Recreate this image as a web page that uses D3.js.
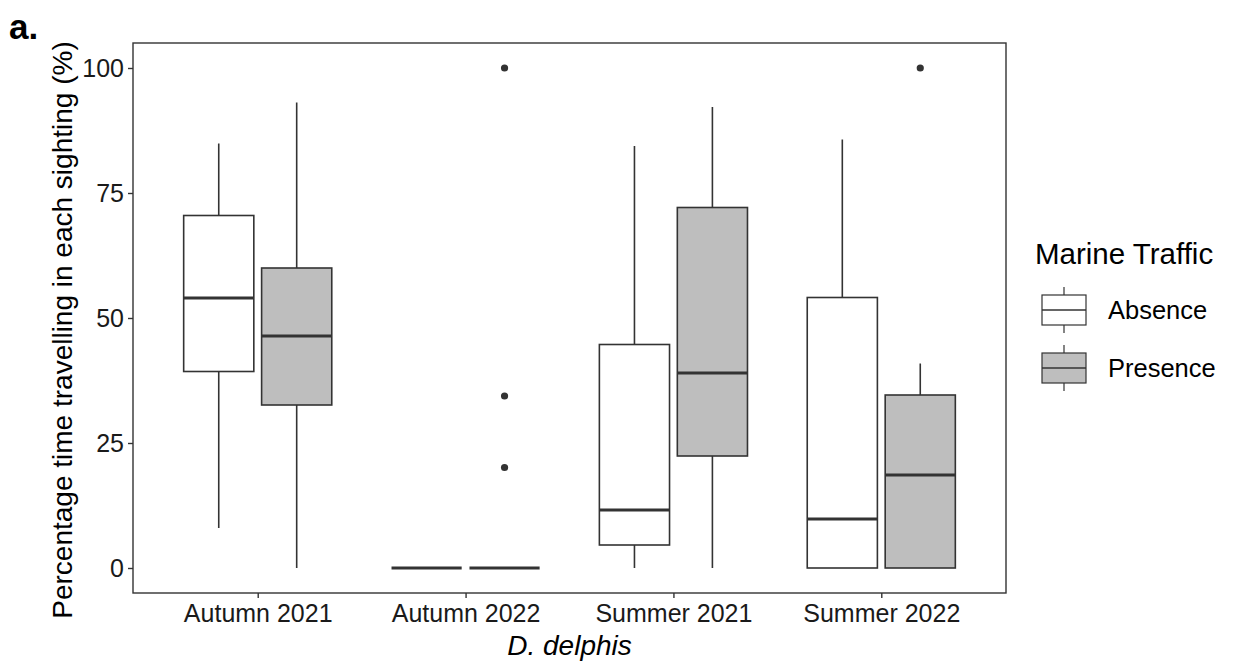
<!DOCTYPE html>
<html>
<head>
<meta charset="utf-8">
<script src="https://cdn.jsdelivr.net/npm/d3@7"></script>
<style>
  html, body { margin: 0; padding: 0; background: #fff; }
  svg { display: block; font-family: "Liberation Sans", Arial, sans-serif; }
</style>
</head>
<body>
<svg id="chart" width="1237" height="668"></svg>
<script>
// ---- data ----
const categories = ["Autumn 2021", "Autumn 2022", "Summer 2021", "Summer 2022"];
const groups = ["Absence", "Presence"];
const yTicks = [0, 25, 50, 75, 100];

// Absence (no marine traffic)
const absenceLow  = [8.0, 0, 0, 0];
const absenceQ1   = [39.3, 0, 4.6, 0];
const absenceMed  = [54.0, 0, 11.6, 9.8];
const absenceQ3   = [70.5, 0, 44.7, 54.1];
const absenceHigh = [84.9, 0, 84.4, 85.7];
const absenceOut  = [[], [], [], []];

// Presence (marine traffic)
const presenceLow  = [0, 0, 0, 0];
const presenceQ1   = [32.6, 0, 22.4, 0];
const presenceMed  = [46.4, 0, 39.0, 18.6];
const presenceQ3   = [60.0, 0, 72.1, 34.6];
const presenceHigh = [93.1, 0, 92.2, 40.9];
const presenceOut  = [[], [100, 34.4, 20.1], [], [100]];

const fills = { Absence: "#FFFFFF", Presence: "#BEBEBE" };
const ink = "#333333";

// ---- layout ----
const svg = d3.select("#chart");
const panel = { left: 133, right: 1006, top: 43, bottom: 593 };

const x = d3.scalePoint().domain(categories).range([panel.left, panel.right]).padding(0.6);
const step = x.step();
const y = d3.scaleLinear().domain([-5, 105]).range([panel.bottom, panel.top]);
const dodge = d3.scaleBand().domain(groups).range([-0.375 * step, 0.375 * step]).paddingInner(0).paddingOuter(0);
const boxW = dodge.bandwidth() * 0.9;

const stats = [];
categories.forEach((c, i) => {
  stats.push({ cat: c, group: "Absence", low: absenceLow[i], q1: absenceQ1[i], med: absenceMed[i], q3: absenceQ3[i], high: absenceHigh[i], out: absenceOut[i] });
  stats.push({ cat: c, group: "Presence", low: presenceLow[i], q1: presenceQ1[i], med: presenceMed[i], q3: presenceQ3[i], high: presenceHigh[i], out: presenceOut[i] });
});

// panel background
svg.append("rect").attr("x", panel.left).attr("y", panel.top)
  .attr("width", panel.right - panel.left).attr("height", panel.bottom - panel.top)
  .attr("fill", "#fff");

const g = svg.append("g");
const cx = d => x(d.cat) + dodge(d.group) + dodge.bandwidth() / 2;

const box = g.selectAll("g.box").data(stats).join("g").attr("class", "box");
// whiskers
box.append("line").attr("x1", cx).attr("x2", cx)
  .attr("y1", d => y(d.q3)).attr("y2", d => y(d.high))
  .attr("stroke", ink).attr("stroke-width", 1.6);
box.append("line").attr("x1", cx).attr("x2", cx)
  .attr("y1", d => y(d.q1)).attr("y2", d => y(d.low))
  .attr("stroke", ink).attr("stroke-width", 1.6);
// box
box.append("rect")
  .attr("x", d => cx(d) - boxW / 2).attr("width", boxW)
  .attr("y", d => y(d.q3)).attr("height", d => y(d.q1) - y(d.q3))
  .attr("fill", d => fills[d.group]).attr("stroke", ink).attr("stroke-width", 1.6);
// median
box.append("line")
  .attr("x1", d => cx(d) - boxW / 2).attr("x2", d => cx(d) + boxW / 2)
  .attr("y1", d => y(d.med)).attr("y2", d => y(d.med))
  .attr("stroke", ink).attr("stroke-width", 3.2);
// outliers
box.selectAll("circle").data(d => d.out.map(v => ({ v, d }))).join("circle")
  .attr("cx", o => cx(o.d)).attr("cy", o => y(o.v)).attr("r", 3.6).attr("fill", ink);

// panel border
svg.append("rect").attr("x", panel.left).attr("y", panel.top)
  .attr("width", panel.right - panel.left).attr("height", panel.bottom - panel.top)
  .attr("fill", "none").attr("stroke", ink).attr("stroke-width", 1.4);

// axes
const yAxis = svg.append("g").attr("transform", `translate(${panel.left},0)`)
  .call(d3.axisLeft(y).tickValues(yTicks).tickSize(5).tickPadding(4));
const xAxis = svg.append("g").attr("transform", `translate(0,${panel.bottom})`)
  .call(d3.axisBottom(x).tickSize(5).tickPadding(6));
[yAxis, xAxis].forEach(a => {
  a.select(".domain").remove();
  a.selectAll(".tick line").attr("stroke", ink).attr("stroke-width", 1.4);
  a.selectAll(".tick text").attr("fill", "#1a1a1a").style("font-size", "25px")
    .style("font-family", '"Liberation Sans", Arial, sans-serif');
});

// axis titles
svg.append("text")
  .attr("transform", `translate(72,330) rotate(-90)`)
  .attr("text-anchor", "middle").style("font-size", "28px").attr("fill", "#000")
  .text("Percentage time travelling in each sighting (%)");
svg.append("text")
  .attr("x", (panel.left + panel.right) / 2 + 0).attr("y", 655)
  .attr("text-anchor", "middle").style("font-size", "28px").style("font-style", "italic").attr("fill", "#000")
  .text("D. delphis");

// panel tag
svg.append("text").attr("x", 9).attr("y", 39)
  .style("font-size", "35px").style("font-weight", "bold").attr("fill", "#000").text("a.");

// legend
const leg = svg.append("g");
leg.append("text").attr("x", 1035).attr("y", 264).style("font-size", "29.5px").attr("fill", "#000").text("Marine Traffic");
const keyY = d3.scalePoint().domain(groups).range([310, 368]);
const key = leg.selectAll("g.key").data(groups).join("g").attr("class", "key")
  .attr("transform", k => `translate(1064,${keyY(k)})`);
key.append("line").attr("x1", 0).attr("x2", 0).attr("y1", -23).attr("y2", 23).attr("stroke", ink).attr("stroke-width", 1.2);
key.append("rect").attr("x", -22).attr("y", -15).attr("width", 44).attr("height", 30)
  .attr("fill", k => fills[k]).attr("stroke", ink).attr("stroke-width", 1.2);
key.append("line").attr("x1", -22).attr("x2", 22).attr("y1", 0).attr("y2", 0).attr("stroke", ink).attr("stroke-width", 1.4);
key.append("text").attr("x", 44).attr("y", 9).style("font-size", "25.5px").attr("fill", "#000").text(k => k);
</script>
</body>
</html>
